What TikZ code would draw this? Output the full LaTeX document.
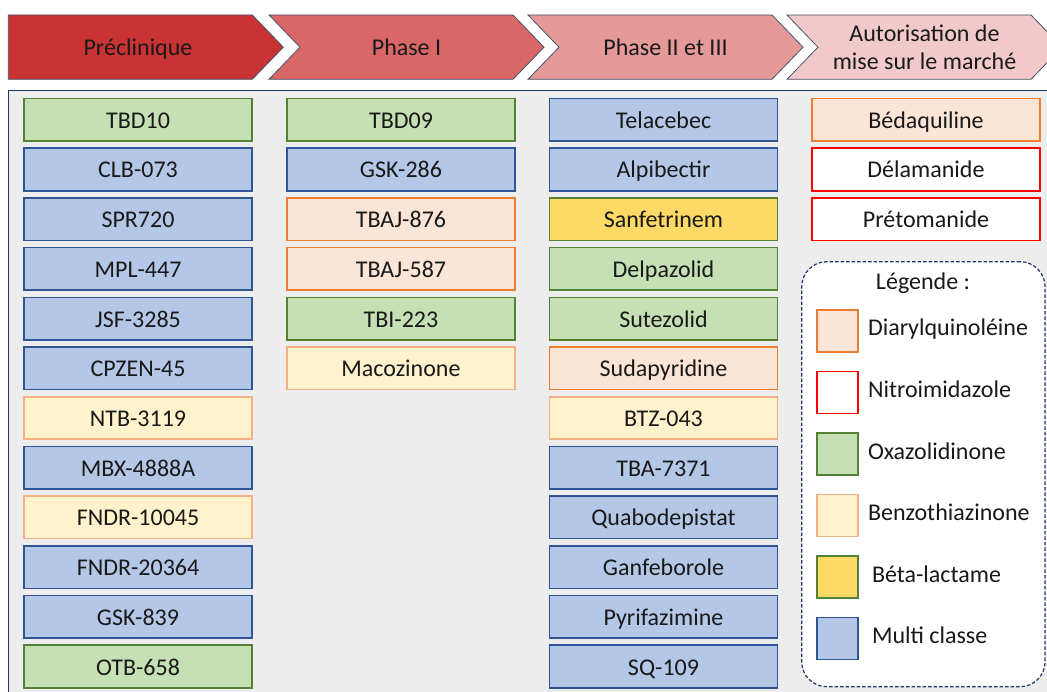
\documentclass[tikz,border=0pt]{standalone}
\usepackage{fontspec}
\setmainfont{Carlito}
\usepackage{xcolor}
\usepackage{tikz}
\usetikzlibrary{positioning,shapes,arrows}

\definecolor{hdrA}{RGB}{201,51,51}
\definecolor{hdrB}{RGB}{217,103,103}
\definecolor{hdrC}{RGB}{229,153,153}
\definecolor{hdrD}{RGB}{242,201,202}
\definecolor{hdrline}{RGB}{68,84,106}
\definecolor{panelfill}{RGB}{237,237,237}
\definecolor{navy}{RGB}{32,56,100}
\definecolor{txt}{RGB}{25,25,25}
\definecolor{multiF}{RGB}{180,199,231}
\definecolor{multiD}{RGB}{47,85,151}
\definecolor{oxaF}{RGB}{197,224,180}
\definecolor{oxaD}{RGB}{84,130,53}
\definecolor{diaF}{RGB}{251,229,214}
\definecolor{diaD}{RGB}{237,125,49}
\definecolor{benzF}{RGB}{255,242,204}
\definecolor{benzD}{RGB}{244,177,131}
\definecolor{betaF}{RGB}{255,217,102}
\definecolor{nitroD}{RGB}{255,0,0}

\begin{document}
\begin{tikzpicture}
            [x=1pt,y=-1pt,every node/.style={font=\fontsize{24}{28}\selectfont, text=txt, inner sep=0pt},
             line/.style={text height=17pt, text depth=0pt},
             hdr/.style={draw=hdrline, line width=0.8pt, line join=miter},
             drug/.style={line, draw, line width=1.6pt, minimum width=228pt, minimum height=42.5pt, yshift=-0.8pt},
             multi/.style={drug, draw=multiD, fill=multiF},
             oxa/.style={drug, draw=oxaD, fill=oxaF},
             dia/.style={drug, draw=diaD, fill=diaF},
             benz/.style={drug, draw=benzD, fill=benzF},
             beta/.style={drug, draw=oxaD, fill=betaF},
             nitro/.style={drug, draw=nitroD, fill=white},
             swatch/.style={draw, line width=1.6pt, minimum width=41pt, minimum height=42pt},
             key/.style={line, right=9pt of #1, anchor=west, yshift=3.5pt}]
            \useasboundingbox (0,0) rectangle (1047,692);
            \clip (0,0) rectangle (1047,692);

            % phases
            \draw[hdr, fill=hdrA] (8.3,15) -- (252.3,15) -- (283.3,47.2) -- (252.3,79.3) -- (8.3,79.3) -- cycle;
            \draw[hdr, fill=hdrB] (269,15) -- (513,15) -- (544,47.2) -- (513,79.3) -- (269,79.3) -- (300,47.2) -- cycle;
            \draw[hdr, fill=hdrC] (528,15) -- (772,15) -- (803,47.2) -- (772,79.3) -- (528,79.3) -- (559,47.2) -- cycle;
            \draw[hdr, fill=hdrD] (787,15) -- (1031,15) -- (1062,47.2) -- (1031,79.3) -- (787,79.3) -- (818,47.2) -- cycle;
            \node[line] (p1) at (138,47.2) {Préclinique};
            \node[line] (p2) at (406.5,47.2) {Phase I};
            \node[line] (p3) at (665.5,47.2) {Phase II et III};
            \node (p4) at (924.5,47.2) [align=center] {Autorisation de\\mise sur le marché};

            % panel
            \draw[navy, line width=1.2pt, fill=panelfill] (8.3,90.7) rectangle (1080,720);

            % preclinique
            \node[oxa] (tbd10) at (138,119) {TBD10};
            \node[multi] (clb073) at (138,168.7) {CLB-073};
            \node[multi] (spr720) at (138,218.4) {SPR720};
            \node[multi] (mpl447) at (138,268.1) {MPL-447};
            \node[multi] (jsf3285) at (138,317.8) {JSF-3285};
            \node[multi] (cpzen45) at (138,367.5) {CPZEN-45};
            \node[benz] (ntb3119) at (138,417.2) {NTB-3119};
            \node[multi] (mbx4888a) at (138,466.9) {MBX-4888A};
            \node[benz] (fndr10045) at (138,516.6) {FNDR-10045};
            \node[multi] (fndr20364) at (138,566.3) {FNDR-20364};
            \node[multi] (gsk839) at (138,616) {GSK-839};
            \node[oxa] (otb658) at (138,665.7) {OTB-658};

            % phase I
            \node[oxa] (tbd09) at (401,119) {TBD09};
            \node[multi] (gsk286) at (401,168.7) {GSK-286};
            \node[dia] (tbaj876) at (401,218.4) {TBAJ-876};
            \node[dia] (tbaj587) at (401,268.1) {TBAJ-587};
            \node[oxa] (tbi223) at (401,317.8) {TBI-223};
            \node[benz] (macozinone) at (401,367.5) {Macozinone};

            % phase II et III
            \node[multi] (telacebec) at (663.5,119) {Telacebec};
            \node[multi] (alpibectir) at (663.5,168.7) {Alpibectir};
            \node[beta] (sanfetrinem) at (663.5,218.4) {Sanfetrinem};
            \node[oxa] (delpazolid) at (663.5,268.1) {Delpazolid};
            \node[oxa] (sutezolid) at (663.5,317.8) {Sutezolid};
            \node[dia] (sudapyridine) at (663.5,367.5) {Sudapyridine};
            \node[benz] (btz043) at (663.5,417.2) {BTZ-043};
            \node[multi] (tba7371) at (663.5,466.9) {TBA-7371};
            \node[multi] (quabodepistat) at (663.5,516.6) {Quabodepistat};
            \node[multi] (ganfeborole) at (663.5,566.3) {Ganfeborole};
            \node[multi] (pyrifazimine) at (663.5,616) {Pyrifazimine};
            \node[multi] (sq109) at (663.5,665.7) {SQ-109};

            % AMM
            \node[dia] (bedaquiline) at (926,119) {Bédaquiline};
            \node[nitro] (delamanide) at (926,168.7) {Délamanide};
            \node[nitro] (pretomanide) at (926,218.4) {Prétomanide};

            % legende
            \node (legend) at (923.4,474.2) [draw=navy, fill=white, line width=1.2pt, dash pattern=on 3.5pt off 2pt,
                rounded corners=25pt, minimum width=243.3pt, minimum height=425pt] {};
            \node[line] (ltitle) at (923,281) {Légende :};
            \node[swatch, draw=diaD, fill=diaF] (s1) at (837.5,331) {};
            \node[swatch, draw=nitroD, fill=white] (s2) at (837.5,392.5) {};
            \node[swatch, draw=oxaD, fill=oxaF] (s3) at (837.5,454) {};
            \node[swatch, draw=benzD, fill=benzF] (s4) at (837.5,515.5) {};
            \node[swatch, draw=oxaD, fill=betaF] (s5) at (837.5,577) {};
            \node[swatch, draw=multiD, fill=multiF] (s6) at (837.5,638.5) {};
            \node[key=s1] (k1) {Diarylquinoléine};
            \node[key=s2] (k2) {Nitroimidazole};
            \node[key=s3] (k3) {Oxazolidinone};
            \node[key=s4] (k4) {Benzothiazinone};
            \node[key=s5, xshift=4pt] (k5) {Béta-lactame};
            \node[key=s6, xshift=4pt] (k6) {Multi classe};
          \end{tikzpicture}
\end{document}
